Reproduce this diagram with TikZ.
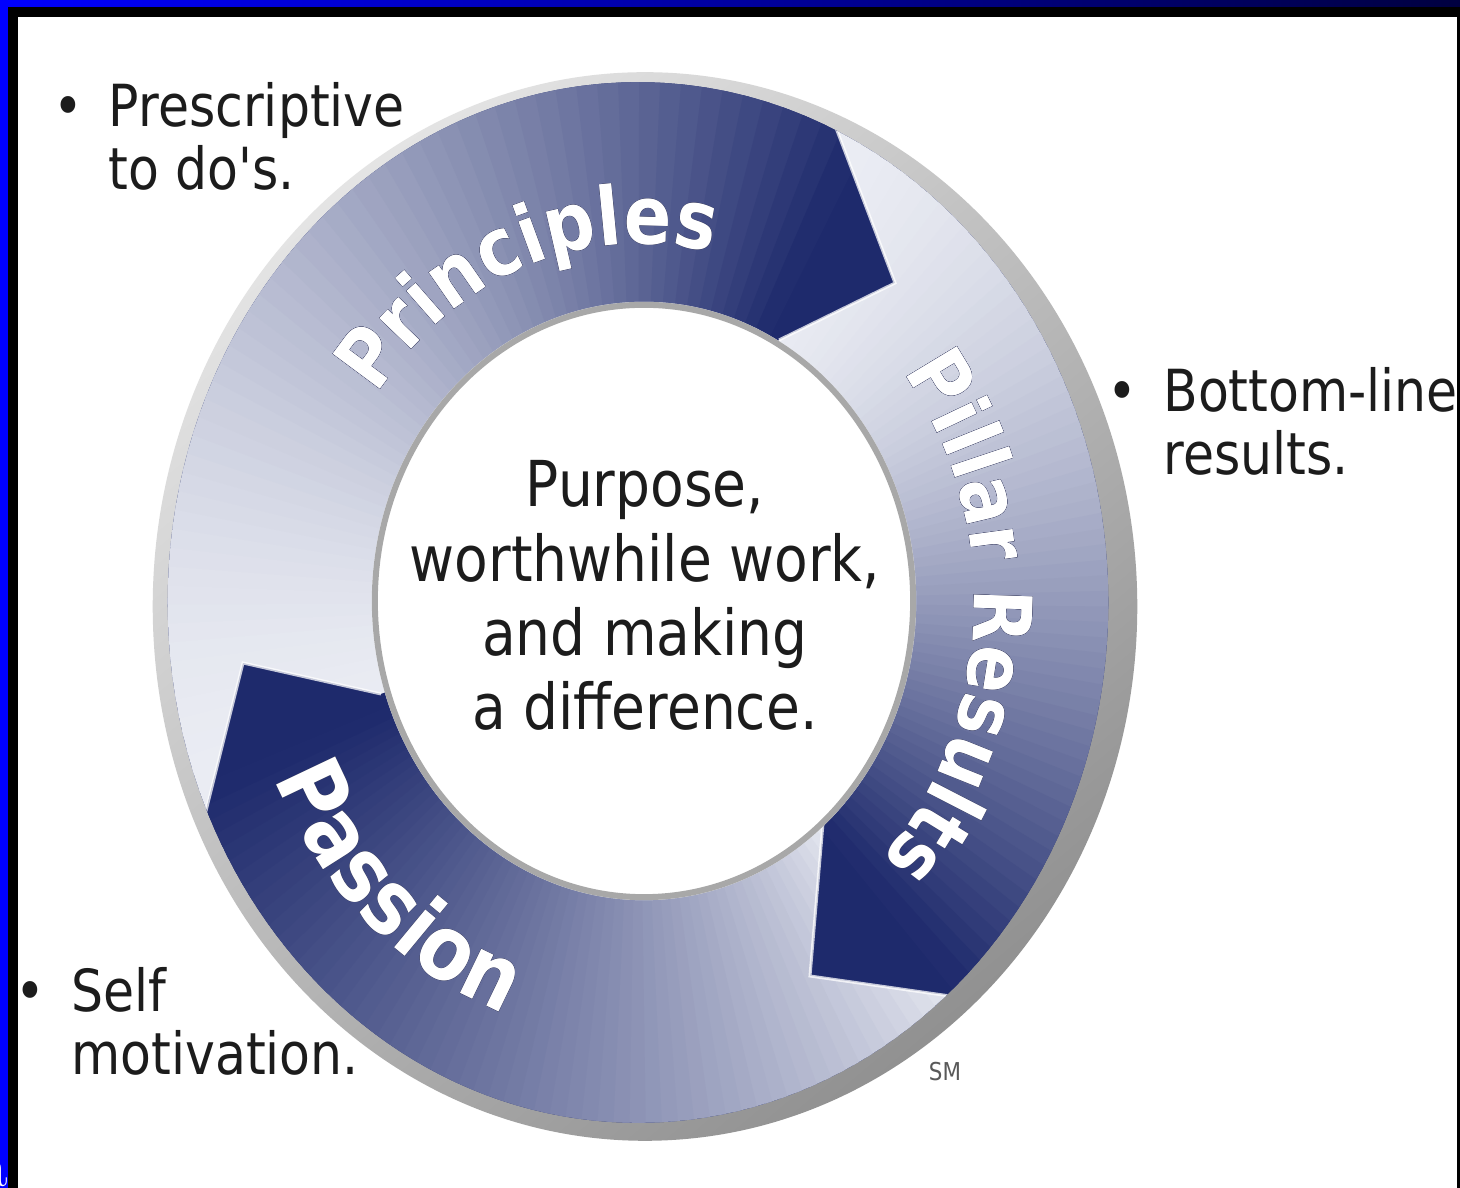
\documentclass[tikz,border=0pt]{standalone}
\usepackage{fontspec}
\defaultfontfeatures{}
\newfontfamily\tah[FakeStretch=0.87]{DejaVu Sans}
\usetikzlibrary{calc,decorations.text}

\definecolor{ringdark}{RGB}{30,42,108}
\definecolor{ringlight}{RGB}{234,236,243}
\definecolor{rimlight}{RGB}{228,228,228}
\definecolor{rimdark}{RGB}{145,145,145}
\definecolor{holerim}{RGB}{168,168,168}
\definecolor{ink}{RGB}{28,28,28}
\definecolor{lbloutline}{RGB}{45,50,90}
\definecolor{frameblue}{RGB}{0,0,255}
\definecolor{framenavy}{RGB}{0,0,64}

% #1 region, #2 tail angle, #3 head angle, #4 exponent of the colour ramp
\newcommand\arrowfill[4]{%
  \begin{scope}
    \clip (ctr) ellipse [x radius=4.70cm, y radius=5.20cm];
    \clip #1;
    \fill[ringdark] (0,0) rectangle (1460,1188);
    \fill[ringlight] (ctr) -- ($(ctr)+({#2+40}:900)$) -- ($(ctr)+(#2:900)$) -- cycle;
    \foreach \k in {0,...,59} {
      \pgfmathsetmacro\ta{#2-((#2)-(#3))*\k/60+0.4}
      \pgfmathsetmacro\tb{#2-((#2)-(#3))*(\k+1)/60-0.4}
      \pgfmathsetmacro\pp{100*((\k+0.5)/60)^(#4)}
      \fill[ringdark!\pp!ringlight] (ctr) -- ($(ctr)+(\ta:900)$) -- ($(ctr)+(\tb:900)$) -- cycle;
    }
  \end{scope}}

% #1 text, #2 start angle, #3 end angle, #4/#5 radii of the baseline ellipse, #6 font size
\newcommand\ringlabel[6]{%
  \foreach \dx/\dy in {2/0,-2/0,0/2,0/-2,1.4/1.4,-1.4/1.4,1.4/-1.4,-1.4/-1.4} {
    \path[shift={(\dx,\dy)}, decorate, decoration={text along path, text color=lbloutline,
      text align=center, text={|\tah\bfseries\fontsize{#6}{#6}\selectfont|#1}}]
      ($(tc)+(#2:#4 and #5)$) arc [start angle=#2, end angle=#3, x radius=#4, y radius=#5];
  }
  \path[decorate, decoration={text along path, text color=white,
      text align=center, text={|\tah\bfseries\fontsize{#6}{#6}\selectfont|#1}}]
      ($(tc)+(#2:#4 and #5)$) arc [start angle=#2, end angle=#3, x radius=#4, y radius=#5];}

\begin{document}
\begin{tikzpicture}[x=0.01cm, y=0.01cm,
  bul/.style={font=\tah\fontsize{16.5pt}{17pt}\selectfont, text=ink, inner sep=0pt, anchor=base west},
  ctext/.style={font=\tah\fontsize{18pt}{21.1pt}\selectfont, text=ink, inner sep=0pt, anchor=base},
  headline/.style={white, opacity=0.75, line width=0.03cm, line join=miter}]

\clip (0,0) rectangle (1460,1188);
\fill[white] (0,0) rectangle (1460,1188);

% geometry of the ring
\coordinate (ctr) at (638,585.5);
\coordinate (tc) at (640,586);
\coordinate (OA) at (836,1060); \coordinate (TA) at (895,905); \coordinate (IA) at (779,848);
\coordinate (OB) at (957,191);  \coordinate (TB) at (810,212); \coordinate (IB) at (823,365);
\coordinate (OC) at (202,361);  \coordinate (TC) at (243,525); \coordinate (IC) at (381,494);
\foreach \n in {A,B,C} {
  \coordinate (O\n x) at ($(ctr)!1.4!(O\n)$);
  \coordinate (I\n x) at ($(ctr)!0.5!(I\n)$);
}
\foreach \a/\n in {180/F180,135/F135,90/F90,30/F30,-10/Fm10,-90/Fm90,-125/Fm125} {
  \coordinate (\n) at ($(ctr)+(\a:900)$);
}

% outer bevel rim
\shade[top color=rimlight, bottom color=rimdark, shading angle=40]
  (645,581.5) ellipse [x radius=4.92cm, y radius=5.34cm];

% the three arrows
\arrowfill{(OCx) -- (F180) -- (F135) -- (F90) -- (OAx) -- (OA) -- (TA) -- (IA) -- (IAx) -- (ctr) -- (ICx) -- (IC) -- (TC) -- (OC) -- cycle}{203}{64}{1.8}
\arrowfill{(OAx) -- (F30) -- (Fm10) -- (OBx) -- (OB) -- (TB) -- (IB) -- (IBx) -- (ctr) -- (IAx) -- (IA) -- (TA) -- (OA) -- cycle}{64}{-50.5}{1.5}
\arrowfill{(OBx) -- (Fm90) -- (Fm125) -- (OCx) -- (OC) -- (TC) -- (IC) -- (ICx) -- (ctr) -- (IBx) -- (IB) -- (TB) -- (OB) -- cycle}{-50.5}{-157}{0.8}

\begin{scope}
  \clip (ctr) ellipse [x radius=4.70cm, y radius=5.20cm];
  \draw[headline] (OAx) -- (OA) -- (TA) -- (IA);
  \draw[headline] (OBx) -- (OB) -- (TB) -- (IB);
  \draw[headline] (OCx) -- (OC) -- (TC) -- (IC);
\end{scope}

% central disc
\fill[white] (644,587) ellipse [x radius=2.72cm, y radius=2.99cm];
\draw[holerim, line width=0.06cm] (644,587) ellipse [x radius=2.69cm, y radius=2.96cm];

% labels on the ring
\ringlabel{Principles}{170}{50}{3.22cm}{3.58cm}{23pt}
\ringlabel{Pillar Results}{62}{-68}{3.34cm}{3.72cm}{23pt}
\ringlabel{Passion}{180}{276}{3.99cm}{4.38cm}{25.5pt}

% centre text
\node[ctext] (mid) at (645,681)
  {\begin{tabular}[t]{@{}c@{}}Purpose,\\ worthwhile work,\\ and making\\ a difference.\end{tabular}};

% bullet notes
\node[bul] (pres) at (47,1061)
  {\begin{tabular}[t]{@{}l@{\hspace{5.7pt}}l@{}}\makebox[11.7pt]{\textbullet} & Prescriptive\\ & to do's.\end{tabular}};
\node[bul] (bott) at (1101.5,776)
  {\begin{tabular}[t]{@{}l@{\hspace{5.7pt}}l@{}}\makebox[11.7pt]{\textbullet} & Bottom-line\\ & results.\end{tabular}};
\node[bul] (self) at (9.5,176)
  {\begin{tabular}[t]{@{}l@{\hspace{5.7pt}}l@{}}\makebox[11.7pt]{\textbullet} & Self\\ & motivation.\end{tabular}};

\node[font=\tah\fontsize{7pt}{7pt}\selectfont, text=black!65, inner sep=0pt] (sm) at (945,116) {SM};

% window frame
\fill[left color=frameblue, right color=framenavy] (0,1181) rectangle (1460,1188);
\fill[black] (8,1171) rectangle (1460,1181);
\fill[frameblue] (0,0) rectangle (8,1181);
\fill[black] (8,0) rectangle (18,1171);
\fill[black] (1457,0) rectangle (1460,1171);
\node[text=white, font=\fontsize{17pt}{17pt}\selectfont, inner sep=0pt, anchor=base east] (stray) at (9,1) {a};

\end{tikzpicture}
\end{document}
